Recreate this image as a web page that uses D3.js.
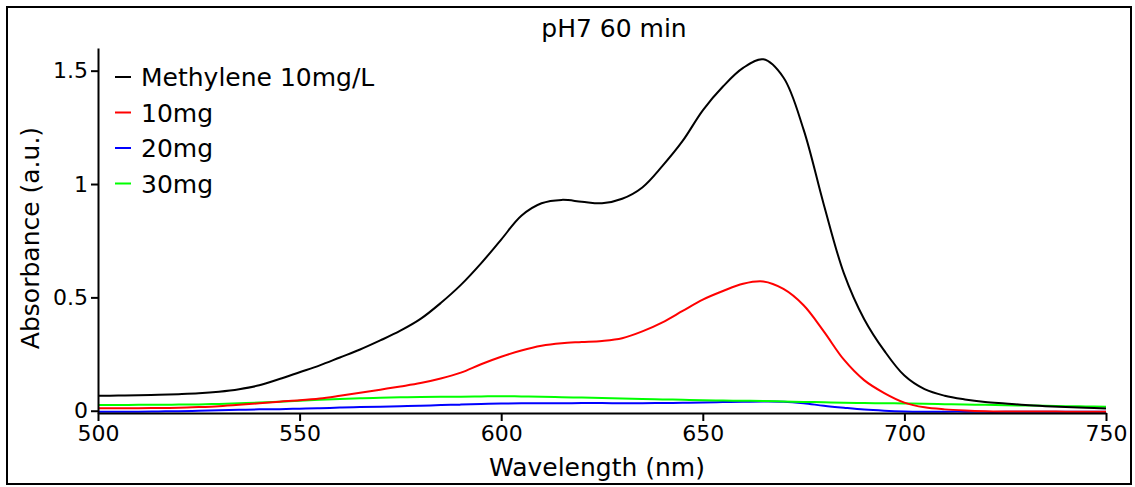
<!DOCTYPE html>
<html><head><meta charset="utf-8">
<script src="https://cdn.jsdelivr.net/npm/d3@7"></script>
<style>body{margin:0;background:#fff}svg{display:block}text{font-family:"DejaVu Sans",Verdana,sans-serif;fill:#000}</style>
</head><body>
<script>
const wavelengths = [500,505,510,515,520,525,530,535,540,545,550,555,560,565,570,575,580,585,590,595,600,605,610,615,620,625,630,635,640,645,650,655,660,665,670,675,680,685,690,695,700,705,710,715,720,725,730,735,740,745,750];
const methylene = [0.066,0.067,0.068,0.070,0.073,0.077,0.084,0.095,0.112,0.140,0.170,0.200,0.235,0.270,0.310,0.353,0.405,0.475,0.555,0.650,0.755,0.860,0.915,0.930,0.922,0.915,0.935,0.985,1.080,1.190,1.325,1.430,1.512,1.550,1.470,1.240,0.910,0.606,0.405,0.265,0.155,0.095,0.066,0.050,0.039,0.032,0.025,0.020,0.016,0.013,0.010];
const mg10 = [0.011,0.011,0.011,0.012,0.013,0.016,0.020,0.026,0.033,0.040,0.046,0.054,0.066,0.079,0.093,0.107,0.122,0.142,0.168,0.205,0.238,0.266,0.287,0.298,0.303,0.308,0.320,0.350,0.390,0.440,0.490,0.528,0.560,0.570,0.537,0.465,0.350,0.225,0.135,0.078,0.036,0.015,0.006,0.001,-0.002,-0.003,-0.003,-0.003,-0.004,-0.004,-0.004];
const mg20 = [-0.004,-0.004,-0.004,-0.003,-0.002,0.000,0.002,0.004,0.006,0.007,0.009,0.011,0.014,0.016,0.018,0.020,0.022,0.025,0.027,0.030,0.032,0.033,0.033,0.033,0.034,0.034,0.033,0.033,0.034,0.035,0.036,0.038,0.040,0.041,0.040,0.033,0.022,0.013,0.005,0.000,-0.003,-0.004,-0.004,-0.004,-0.005,-0.005,-0.005,-0.005,-0.005,-0.005,-0.005];
const mg30 = [0.025,0.025,0.026,0.026,0.027,0.028,0.030,0.033,0.036,0.040,0.044,0.048,0.052,0.055,0.057,0.059,0.061,0.062,0.062,0.063,0.064,0.063,0.062,0.060,0.058,0.056,0.054,0.052,0.050,0.048,0.046,0.045,0.044,0.043,0.041,0.039,0.037,0.035,0.034,0.033,0.032,0.031,0.029,0.027,0.026,0.024,0.023,0.022,0.020,0.019,0.018];
const seriesNames = ["Methylene 10mg/L","10mg","20mg","30mg"];
const seriesColors = ["#000000","#ff0000","#0000ff","#00ff00"];
const xTicks = [500,550,600,650,700,750];
const yTicks = [0,0.5,1,1.5];
const yTickLabels = ["0","0.5","1","1.5"];
const title = "pH7 60 min";
const xTitle = "Wavelength (nm)";
const yTitle = "Absorbance (a.u.)";

const W = 1135, H = 487;
const svg = d3.select("body").append("svg").attr("width", W).attr("height", H);
svg.append("rect").attr("x",7).attr("y",7).attr("width",1124).attr("height",477)
  .attr("fill","#fff").attr("stroke","#000").attr("stroke-width",2);

const x = d3.scaleLinear().domain([500,750]).range([98,1106]);
const y = d3.scaleLinear().domain([-0.01,1.6]).range([413,48]);

const allSeries = [methylene, mg10, mg20, mg30];
const line = d3.line().x(d=>x(d[0])).y(d=>y(d[1])).curve(d3.curveCatmullRom.alpha(0.5));
const order = [2,3,1,0];
order.forEach(i=>{
  svg.append("path").datum(wavelengths.map((w,j)=>[w, allSeries[i][j]]))
    .attr("d", line).attr("fill","none").attr("stroke", seriesColors[i]).attr("stroke-width",2);
});

const xAxis = svg.append("g").attr("transform","translate(0,413)")
  .call(d3.axisBottom(x).tickValues(xTicks).tickFormat(d3.format("d")).tickSize(8).tickSizeOuter(0).tickPadding(4));
const yAxis = svg.append("g").attr("transform","translate(98,0)")
  .call(d3.axisLeft(y).tickValues(yTicks).tickFormat((d,i)=>yTickLabels[i]).tickSize(7).tickSizeOuter(0).tickPadding(3));
[xAxis,yAxis].forEach(g=>{
  g.select(".domain").attr("stroke","#000").attr("stroke-width",2);
  g.selectAll(".tick line").attr("stroke","#000").attr("stroke-width",2);
  g.selectAll(".tick text").attr("font-family","DejaVu Sans").attr("font-size",22).attr("fill","#000");
});

svg.append("text").attr("x",614).attr("y",37).attr("text-anchor","middle").attr("font-size",25).text(title);
svg.append("text").attr("x",597).attr("y",476).attr("text-anchor","middle").attr("font-size",25).text(xTitle);
svg.append("text").attr("transform","translate(39,238) rotate(-90)").attr("text-anchor","middle").attr("font-size",25).text(yTitle);

const leg = svg.append("g");
seriesNames.forEach((n,i)=>{
  const ry = 77 + i*35.5;
  leg.append("line").attr("x1",115).attr("x2",131).attr("y1",ry).attr("y2",ry).attr("stroke",seriesColors[i]).attr("stroke-width",2);
  leg.append("text").attr("x",141).attr("y",ry+9).attr("font-size",25).text(n);
});
</script>
</body></html>
